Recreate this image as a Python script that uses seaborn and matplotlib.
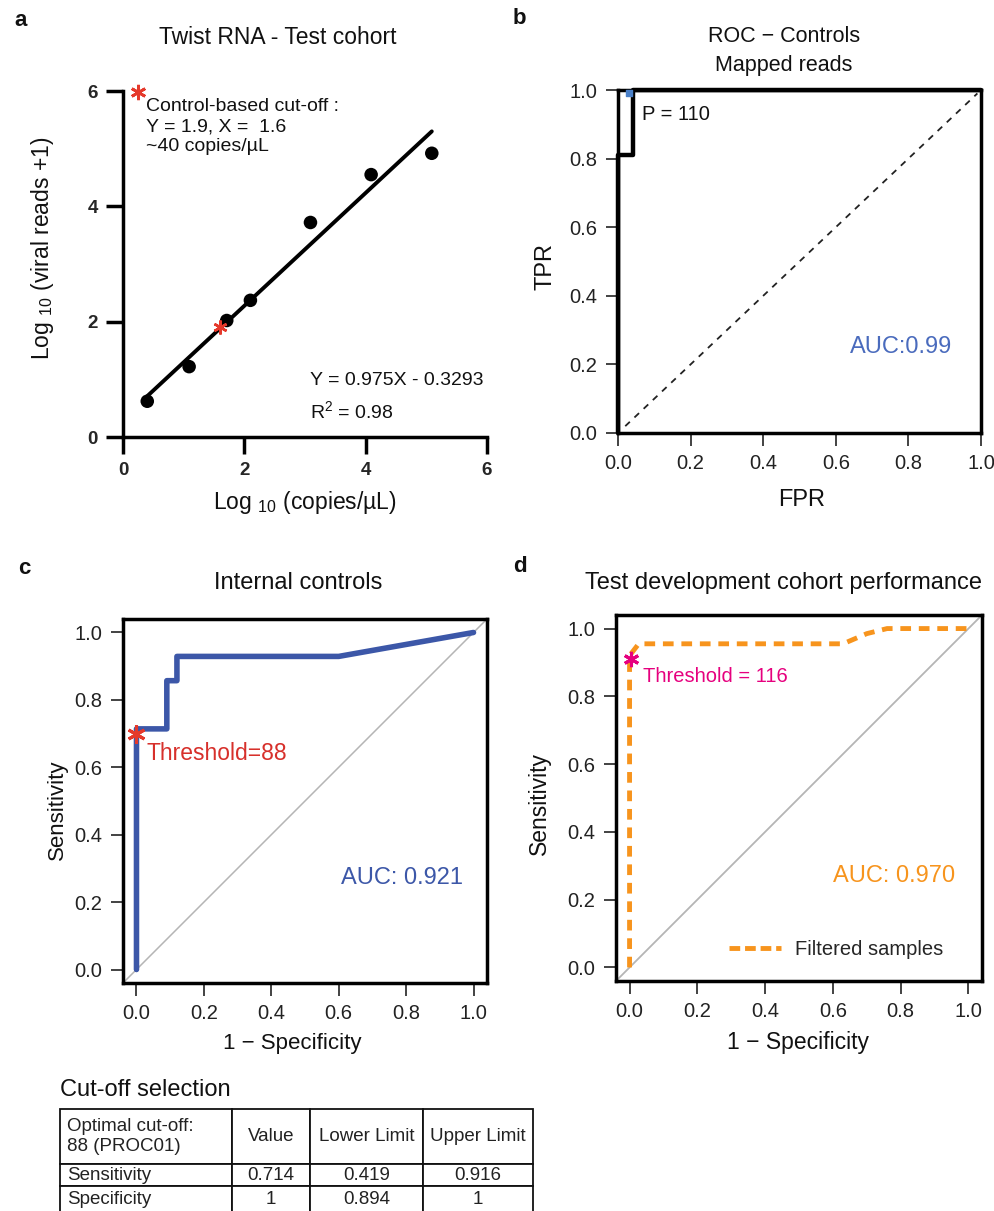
import numpy as np
import pandas as pd
import matplotlib
matplotlib.use("Agg")
import matplotlib.pyplot as plt
import seaborn as sns

# panel a: Twist RNA test cohort
log_copies = [0.40, 1.09, 1.71, 2.10, 3.09, 4.09, 5.09]
log_reads = [0.62, 1.22, 2.02, 2.37, 3.72, 4.55, 4.92]
cutoff_x = [1.6]
cutoff_y = [1.9]

# panel b: ROC controls, mapped reads
b_fpr = [0.0, 0.0, 0.04, 0.04, 1.0]
b_tpr = [0.0, 0.81, 0.81, 1.0, 1.0]
b_best = (0.03, 0.99)

# panel c: internal controls
c_fpr = [0.0, 0.0, 0.09, 0.09, 0.12, 0.12, 0.60, 1.0]
c_tpr = [0.0, 0.714, 0.714, 0.857, 0.857, 0.929, 0.929, 1.0]
c_star = (0.0, 0.70)

# panel d: test development cohort
d_fpr = [0.0, 0.0, 0.027, 0.63, 0.70, 0.76, 1.0]
d_tpr = [0.0, 0.92, 0.955, 0.955, 0.985, 1.0, 1.0]
d_star = (0.003, 0.911)

# cut-off table
table_cols = ["Optimal cut-off:\n88 (PROC01)", "Value", "Lower Limit", "Upper Limit"]
table_rows = [["Sensitivity", "0.714", "0.419", "0.916"],
              ["Specificity", "1", "0.894", "1"]]

BLUE = "#3c57a8"
ORANGE = "#f7941d"
MAGENTA = "#e6007e"
RED = "#e5392b"

sns.set_theme(style="white")
plt.rcParams["font.family"] = ["Liberation Sans", "DejaVu Sans"]
plt.rcParams["mathtext.fontset"] = "custom"
plt.rcParams["mathtext.rm"] = "Liberation Sans"
plt.rcParams["mathtext.it"] = "Liberation Sans:italic"
plt.rcParams["mathtext.bf"] = "Liberation Sans:bold"

fig = plt.figure(figsize=(9.95, 12.11), dpi=100)


def box(l, t, r, b):
    return [l / 995, 1 - b / 1211, (r - l) / 995, (b - t) / 1211]


def ftext(x, y, s, **kw):
    fig.text(x / 995, 1 - y / 1211, s, ha=kw.pop("ha", "center"),
             va=kw.pop("va", "center"), **kw)


def place_labels(ax, xl, yl, xpos, ypos, size):
    ax.set_xlabel(xl, fontsize=size, color="#111")
    ax.set_ylabel(yl, fontsize=size, color="#111")
    ax.xaxis.set_label_coords(*xpos)
    ax.yaxis.set_label_coords(*ypos)
    for lab in (ax.xaxis.label, ax.yaxis.label):
        lab.set_ha("center")
        lab.set_va("center")


def roc_frame(ax, lim, ticklen):
    ax.set_xlim(*lim)
    ax.set_ylim(*lim)
    ticks = [0, 0.2, 0.4, 0.6, 0.8, 1.0]
    ax.set_xticks(ticks)
    ax.set_yticks(ticks)
    ax.set_xticklabels([f"{t:.1f}" for t in ticks])
    ax.set_yticklabels([f"{t:.1f}" for t in ticks])
    for sp in ax.spines.values():
        sp.set_visible(True)
        sp.set_linewidth(2.5)
        sp.set_color("black")
    ax.tick_params(direction="out", length=ticklen, width=1.2, color="#222",
                   labelsize=14.5, labelcolor="#222", pad=6,
                   bottom=True, left=True)


# ---- a ----
ax = fig.add_axes(box(123, 91, 487, 437))
df_a = pd.DataFrame({"x": log_copies, "y": log_reads})
sns.regplot(data=df_a, x="x", y="y", ci=None, ax=ax, color="black",
            scatter_kws={"s": 95, "alpha": 1, "edgecolor": "none"},
            line_kws={"lw": 2.8})
ax.plot(cutoff_x, cutoff_y, linestyle="none", marker=(6, 2, 0), ms=10,
        mew=1.8, color=RED, zorder=5)
ax.plot([0.25], [5.98], linestyle="none", marker=(6, 2, 0), ms=11,
        mew=2.0, color=RED, clip_on=False, zorder=5)
ax.set_xlim(0, 6)
ax.set_ylim(0, 6)
ax.set_xticks([0, 2, 4, 6])
ax.set_yticks([0, 2, 4, 6])
sns.despine(ax=ax)
for sp in ("left", "bottom"):
    ax.spines[sp].set_linewidth(2.5)
    ax.spines[sp].set_color("black")
ax.tick_params(direction="out", length=12, width=2.5, color="black",
               labelsize=13.5, pad=6, bottom=True, left=True)
for lab in ax.get_xticklabels() + ax.get_yticklabels():
    lab.set_fontweight("bold")
place_labels(ax, "Log $_{10}$ (copies/µL)", "Log $_{10}$ (viral reads +1)",
             (0.50, -0.19), (-0.22, 0.546), 16.5)
ax.text(0.385, 5.87, "Control-based cut-off :\nY = 1.9, X =  1.6\n~40 copies/µL",
        fontsize=14, ha="left", va="top", linespacing=1.22, color="#111")
ax.text(3.08, 0.98, "Y = 0.975X - 0.3293", fontsize=14, ha="left",
        va="center", color="#111")
ax.text(3.08, 0.45, "R$^2$ = 0.98", fontsize=14, ha="left", va="center",
        color="#111")
ftext(278, 37, "Twist RNA - Test cohort", fontsize=16.5, color="#111")

# ---- b ----
ax = fig.add_axes(box(618, 90, 981, 433))
roc_frame(ax, (0, 1), 9)
ax.plot([0.02, 0.99], [0.02, 0.99], color="#222", lw=1.3, dashes=(3.5, 3.5))
sns.lineplot(x=b_fpr, y=b_tpr, sort=False, estimator=None, ax=ax,
             color="black", lw=3.2, clip_on=False)
ax.scatter([b_best[0]], [b_best[1]], marker="s", s=22, color="#4a80c8",
           zorder=6, clip_on=False)
ax.text(0.065, 0.93, "P = 110", fontsize=14.5, ha="left", va="center",
        color="#111")
ax.text(0.92, 0.25, "AUC:0.99", fontsize=17, ha="right", va="center",
        color="#4a6bbd")
place_labels(ax, "FPR", "TPR", (0.507, -0.195), (-0.201, 0.484), 17)
ftext(784, 37, "ROC − Controls", fontsize=15.5, color="#111")
ftext(784, 65, "Mapped reads", fontsize=15.5, color="#111")

# ---- c ----
ax = fig.add_axes(box(123, 619, 487, 983))
roc_frame(ax, (-0.04, 1.04), 9)
ax.axline((0, 0), slope=1, color="#b5b5b5", lw=1.1)
sns.lineplot(x=c_fpr, y=c_tpr, sort=False, estimator=None, ax=ax,
             color=BLUE, lw=4)
ax.plot([c_star[0]], [c_star[1]], linestyle="none", marker=(6, 2, 0), ms=13,
        mew=2.2, color=RED, zorder=6)
ax.text(0.03, 0.64, "Threshold=88", fontsize=16.5, ha="left", va="center",
        color="#d7302b")
ax.text(0.97, 0.273, "AUC: 0.921", fontsize=17, ha="right", va="center",
        color=BLUE)
place_labels(ax, "1 − Specificity", "Sensitivity", (0.466, -0.165),
             (-0.181, 0.475), 16)
ftext(298, 583, "Internal controls", fontsize=17, color="#111")

# ---- d ----
ax = fig.add_axes(box(616, 615, 982, 981))
roc_frame(ax, (-0.04, 1.04), 9)
ax.axline((0, 0), slope=1, color="#b5b5b5", lw=1.3)
sns.lineplot(x=d_fpr, y=d_tpr, sort=False, estimator=None, ax=ax,
             color=ORANGE, lw=3.5, dashes=False, label="Filtered samples")
ax.lines[-1].set_dashes((2.2, 1.6))
ax.plot([d_star[0]], [d_star[1]], linestyle="none", marker=(6, 2, 0), ms=11,
        mew=2.2, color=MAGENTA, zorder=6)
ax.text(0.04, 0.86, "Threshold = 116", fontsize=14.5, ha="left",
        va="center", color=MAGENTA)
ax.text(0.96, 0.27, "AUC: 0.970", fontsize=17, ha="right", va="center",
        color=ORANGE)
leg = ax.legend(loc="center right", bbox_to_anchor=(0.945, 0.085),
                frameon=False, fontsize=14.5, handlelength=2.6,
                handletextpad=0.7)
leg.get_lines()[0].set_dashes((2.2, 1.0))
place_labels(ax, "1 − Specificity", "Sensitivity", (0.497, -0.167),
             (-0.208, 0.486), 16.5)
ftext(784, 583, "Test development cohort performance", fontsize=17,
      color="#111")

# ---- table ----
ax = fig.add_axes(box(60, 1109, 533, 1212))
ax.axis("off")
tab = ax.table(cellText=table_rows, colLabels=table_cols, cellLoc="center",
               colWidths=[172, 78, 113, 110], bbox=[0, 0, 1, 1])
tab.auto_set_font_size(False)
tab.set_fontsize(13.5)
heights = [55, 22, 26]
for (r, c), cell in tab.get_celld().items():
    cell.set_height(heights[r])
    cell.set_linewidth(1.3)
    cell.set_edgecolor("#111")
    cell.get_text().set_color("#222")
    if c == 0:
        cell.PAD = 0.04
        cell.get_text().set_horizontalalignment("left")
        cell.get_text().set_multialignment("left")
ftext(60, 1090, "Cut-off selection", fontsize=17, ha="left", color="#111")

# panel letters
for x, y, s in [(14, 20, "a"), (513, 18, "b"), (18, 568, "c"), (513, 566, "d")]:
    ftext(x, y, s, fontsize=16, fontweight="bold", ha="left", color="#111")

fig.savefig("out.png", dpi=100)
